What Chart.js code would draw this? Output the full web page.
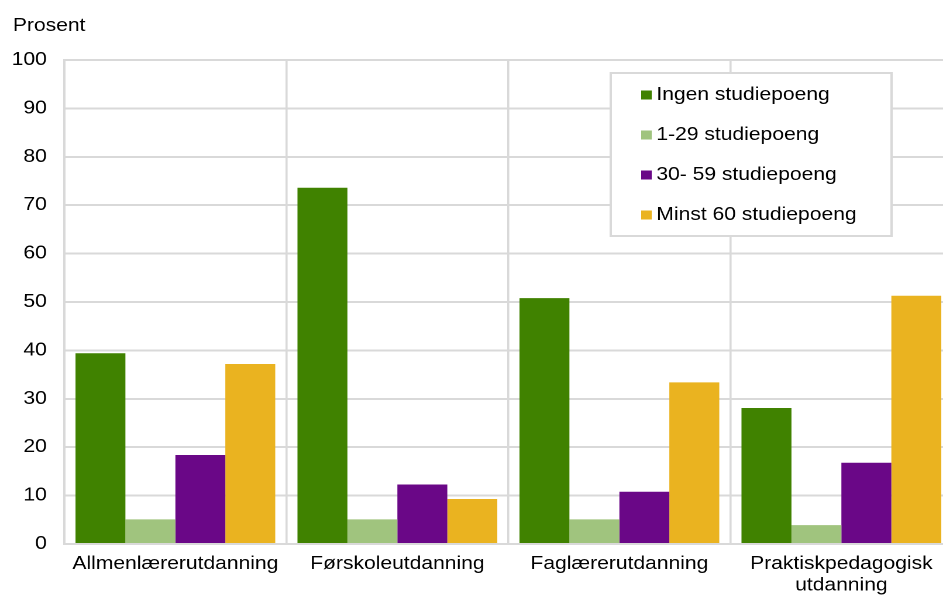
<!DOCTYPE html>
<html>
<head>
<meta charset="utf-8">
<script src="https://cdn.jsdelivr.net/npm/chart.js@4"></script>
<style>
  html, body { margin: 0; padding: 0; background: #fff; overflow: hidden; width: 943px; height: 595px; }
  /* the reference is stretched sideways, so the chart is too */
  #wrap { width: 830px; height: 595px; transform: scaleX(1.17); transform-origin: 0 0; }
</style>
</head>
<body>
<div id="wrap"><canvas id="myChart" width="830" height="595"></canvas></div>
<script>
// data
var categories = ['Allmenlærerutdanning', 'Førskoleutdanning', 'Faglærerutdanning', ['Praktiskpedagogisk', 'utdanning']];
var seriesNames = ['Ingen studiepoeng', '1-29 studiepoeng', '30- 59 studiepoeng', 'Minst 60 studiepoeng'];
var ingen = [39.4, 73.6, 50.8, 28.1];
var lav = [5.1, 5.1, 5.1, 3.9];
var middels = [18.4, 12.3, 10.8, 16.8];
var minst60 = [37.2, 9.3, 33.4, 51.3];
var colors = ['#408200', '#a0c47e', '#6a0787', '#eab320'];
var yMin = 0, yMax = 100, yStep = 10;
var yTitle = 'Prosent';

var FONT = "'Liberation Sans', Arial, sans-serif";
var GRID = '#d9d9d9';

var values = [ingen, lav, middels, minst60];
var datasets = values.map(function (v, i) {
  return {
    label: seriesNames[i],
    data: v,
    backgroundColor: colors[i],
    borderWidth: 0,
    categoryPercentage: 0.9,
    barPercentage: 1.0
  };
});

// title "Prosent" + boxed legend inside plot
var extras = {
  id: 'extras',
  afterDraw: function (chart) {
    var ctx = chart.ctx;
    ctx.save();
    ctx.font = '18px ' + FONT;
    ctx.fillStyle = '#000';
    ctx.textBaseline = 'middle';
    ctx.textAlign = 'left';
    ctx.fillText(yTitle, 11, 26);

    // legend box
    var bx = 522, by = 73, bw = 240, bh = 163;
    ctx.fillStyle = '#fff';
    ctx.fillRect(bx, by, bw, bh);
    ctx.strokeStyle = GRID;
    ctx.lineWidth = 2;
    ctx.strokeRect(bx, by, bw, bh);
    chart.data.datasets.forEach(function (ds, i) {
      var cy = 95 + i * 40;
      ctx.fillStyle = ds.backgroundColor;
      ctx.fillRect(548, cy - 4.5, 9, 9);
      ctx.fillStyle = '#000';
      ctx.fillText(ds.label, 561, cy);
    });
    ctx.restore();
  }
};

var ctx = document.getElementById('myChart').getContext('2d');
var chart = new Chart(ctx, {
  type: 'bar',
  data: {
    labels: categories,
    datasets: datasets
  },
  options: {
    responsive: false,
    animation: false,
    devicePixelRatio: 2,
    layout: { padding: { top: 60, right: 16, left: 0, bottom: 0 } },
    plugins: {
      legend: { display: false },
      tooltip: { enabled: false }
    },
    scales: {
      x: {
        grid: { color: GRID, lineWidth: 1.8, drawTicks: false, offset: true },
        border: { color: GRID, width: 2 },
        ticks: { color: '#000', font: { family: FONT, size: 18 }, padding: 9, maxRotation: 0, autoSkip: false },
        afterFit: function (scale) { scale.height = 51; }
      },
      y: {
        min: yMin,
        max: yMax,
        grid: { color: GRID, lineWidth: 2, drawTicks: false },
        border: { color: GRID, width: 2 },
        ticks: { stepSize: yStep, color: '#000', font: { family: FONT, size: 18 }, padding: 15 },
        afterFit: function (scale) { scale.width = 55; }
      }
    }
  },
  plugins: [extras]
});
</script>
</body>
</html>
